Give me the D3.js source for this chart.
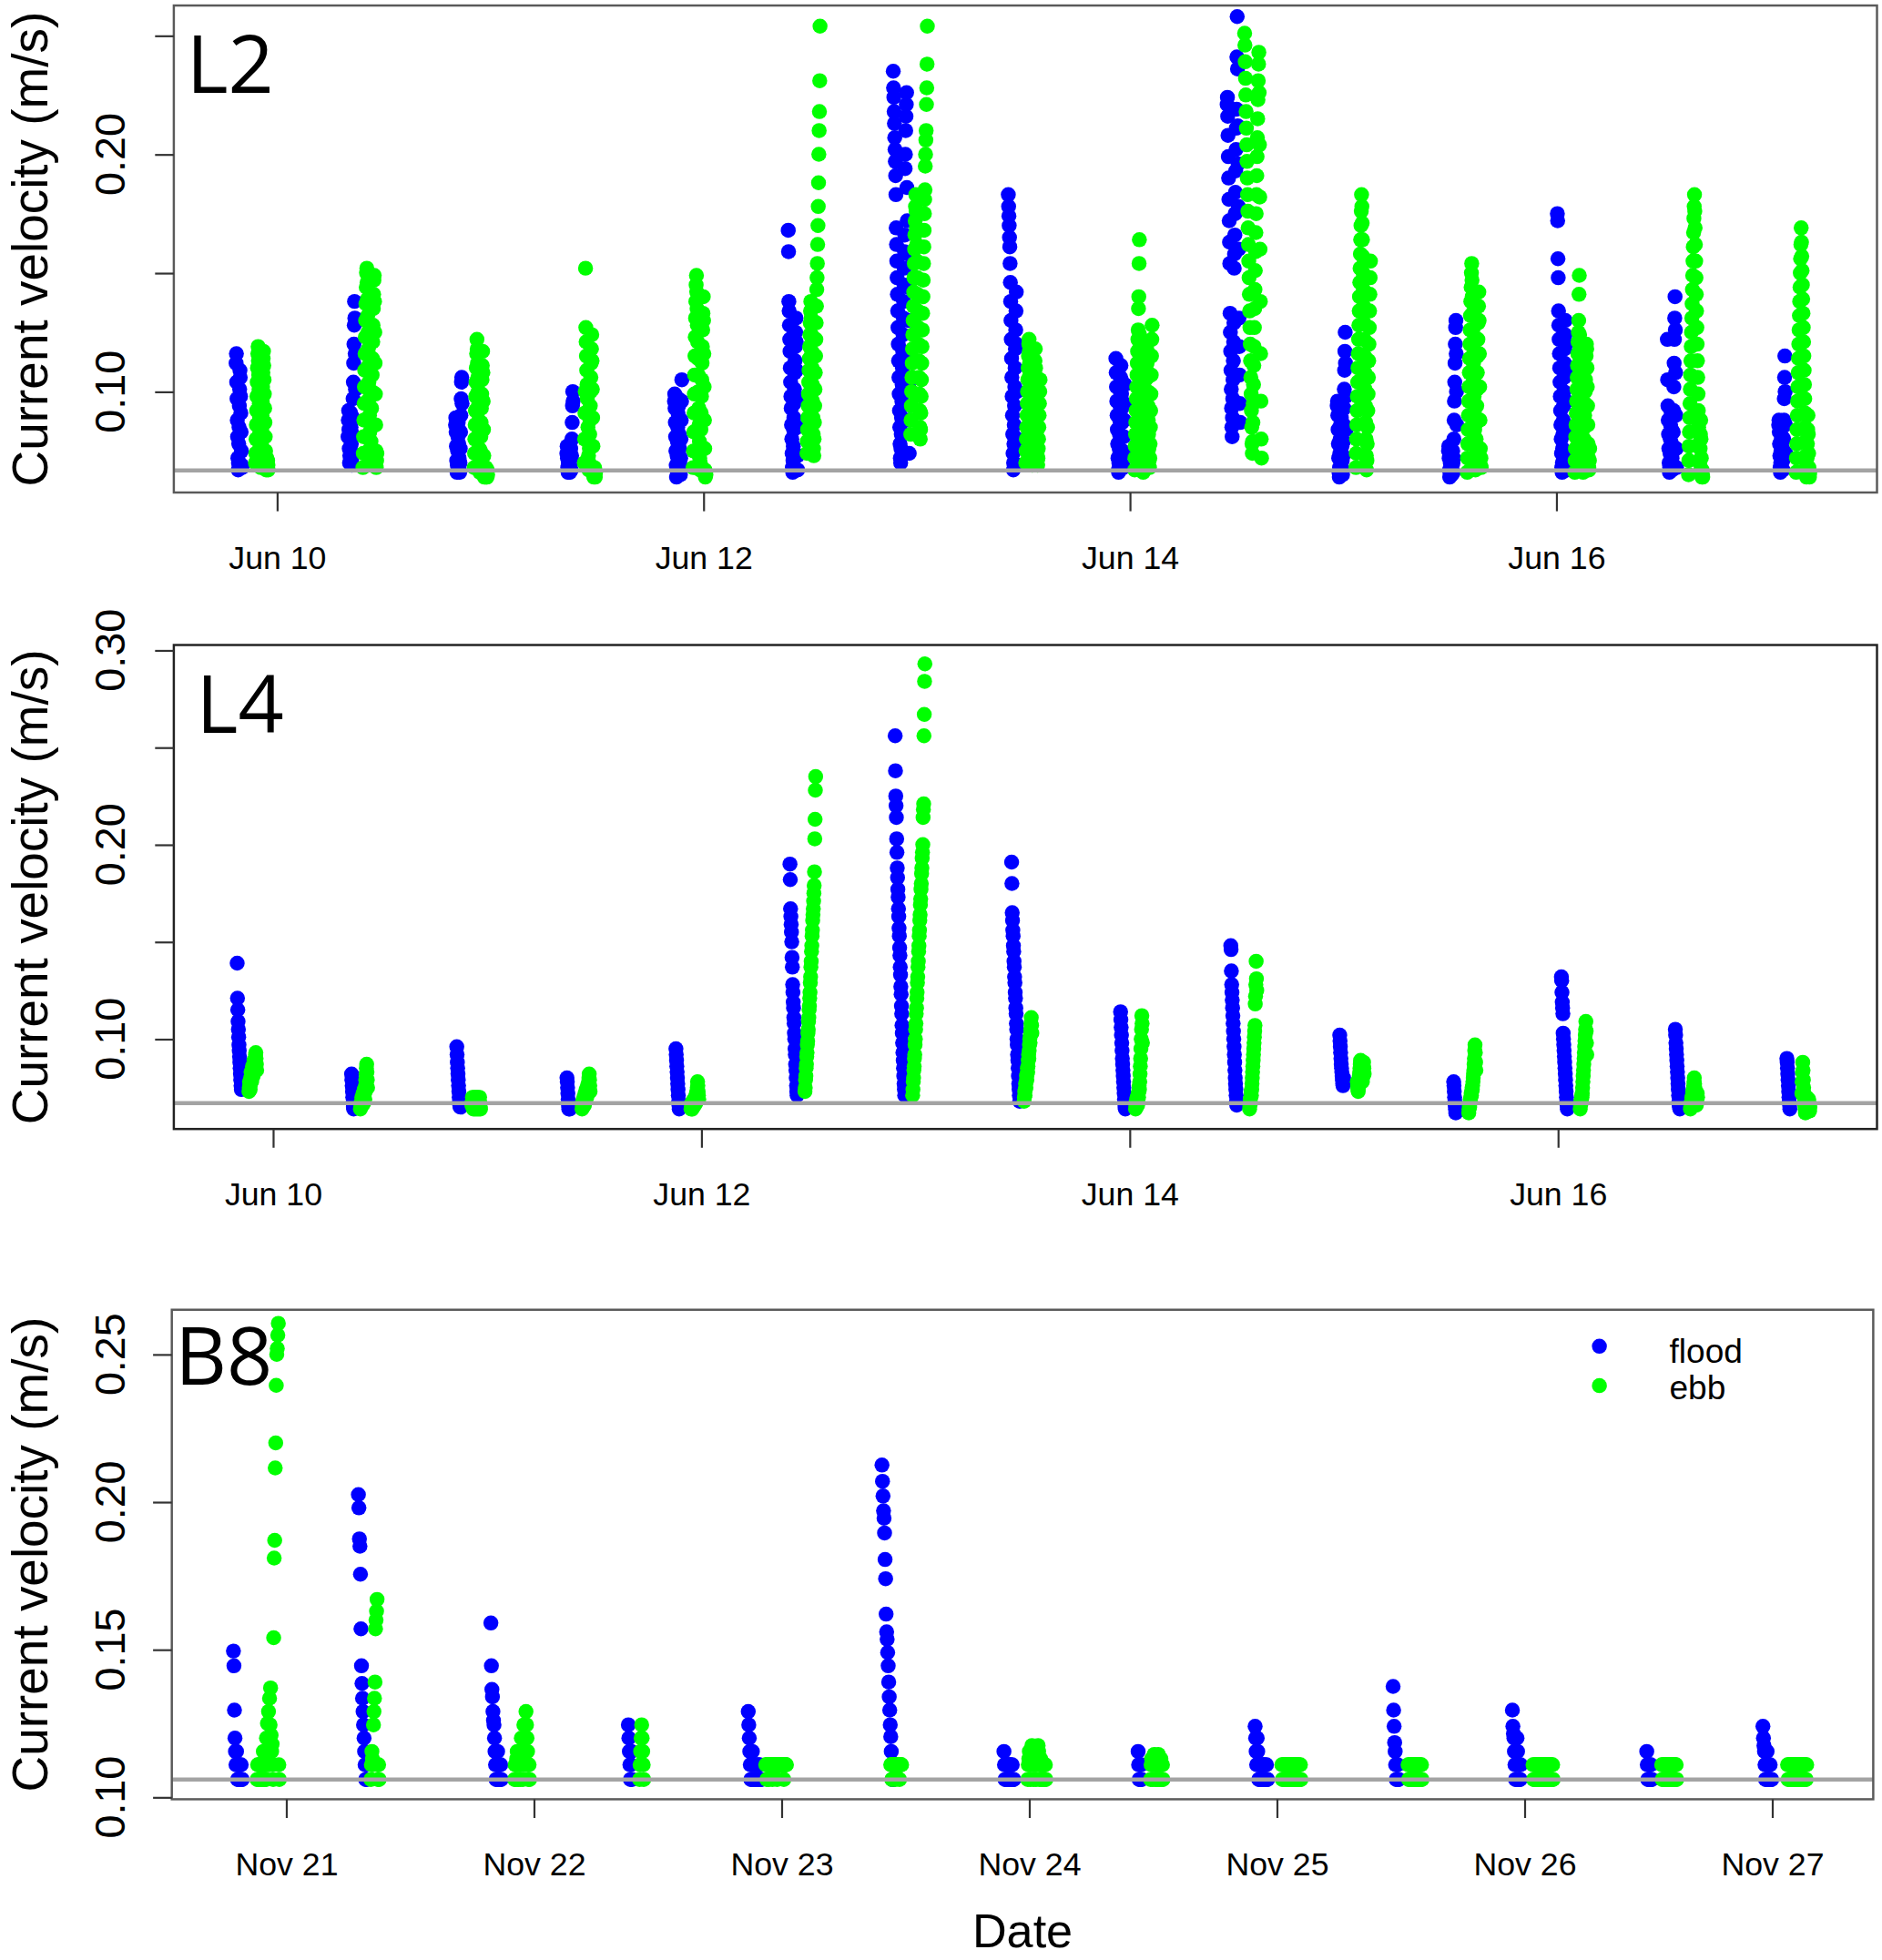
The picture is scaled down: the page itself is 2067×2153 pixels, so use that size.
<!DOCTYPE html>
<html><head><meta charset="utf-8">
<script src="https://cdn.jsdelivr.net/npm/d3@7"></script>
<style>
html,body{margin:0;padding:0;background:#fff;}
svg{display:block;}
text{font-family:"Liberation Sans", Arial, Helvetica, sans-serif;fill:#000;}
</style></head><body>
<svg id="chart" width="2067" height="2153" viewBox="0 0 1505 1568" preserveAspectRatio="none"></svg>
<script>
// ---------------- DATA (velocities in mm/s, start times in hours after the reference day) -------------
const seriesNames = ["flood", "ebb"];
const seriesColors = ["#0000FF", "#00FF00"];

// L2 (June) ---------------------------------------------------------------
const L2_floodStartH = [-4.60, 8.00, 20.10, 32.63, 44.74, 57.55, 69.37, 82.32, 94.43, 106.95, 119.34, 131.87, 144.12, 156.50, 169.03];
const L2_floodVel = [
 [112,116,104,97,88,81,72,67,70,78,85,94,101,109,106,98,91,83,75,69,68],
 [81,88,92,84,76,70,73,80,87,91,85,78,71,69,74,82,89,97,104,112,120,128,138,131,116,101],
 [86,89,83,77,71,66,69,75,81,87,84,78,72,67,66,70,76,83,90,97,104,106,95],
 [74,77,72,68,66,70,75,77,71,67,66,69,73,76,72,67,73,80,87,94,100,96],
 [96,99,93,87,81,75,69,64,67,73,79,85,91,97,94,88,82,76,70,66,65,72,80,88,96,105],
 [168,159,138,134,128,122,117,110,104,98,93,86,80,74,68,66,71,77,84,89,95,101,108,113,119,125,131,121,109,97,85,73,67],
 [235,228,224,218,213,207,202,197,191,183,169,162,155,148,141,134,127,120,113,106,99,92,85,78,72,70,76,82,89,96,103,110,117,124,131,138,145,152,159,166,194,200,210,216,221,226,186,172,158,144,130,116,102,88,74],
 [183,178,174,170,165,161,154,146,138,130,122,114,106,98,90,82,74,67,70,78,86,94,102,110,118,126,134,142,120,100,80,69],
 [114,108,102,96,90,84,78,72,67,66,70,76,82,88,94,100,106,111,105,99,93,87,81,75,69,68,74,81,88,95,103],
 [221,224,216,208,199,190,181,172,163,154,133,125,117,109,101,93,85,81,89,97,105,113,121,129,152,158,166,175,184,193,202,211,219,241,258,236,212,196,178,160,131,119,107,95,87],
 [94,96,90,84,78,72,66,64,68,74,80,86,92,95,89,83,77,71,65,67,73,79,86,93,101,109,117,125,112,98,84],
 [75,77,72,67,64,66,70,74,76,71,66,65,69,73,75,70,66,72,80,88,96,104,112,120,127,130,116,100,86],
 [175,172,156,148,134,128,122,116,110,104,98,92,86,80,74,68,66,70,76,82,88,94,100,106,112,118,124,130,120,108,96,84,72,67],
 [122,105,94,88,82,76,70,66,68,74,80,86,92,90,84,78,72,67,69,75,83,92,102,112,122,131,140,126,108,90,76,68],
 [86,88,83,78,73,68,66,70,75,80,85,87,81,76,71,67,72,80,88,97,106,115,100,86,74]
];
const L2_ebbStartH = [-2.42, 9.68, 22.21, 34.60, 46.85, 59.66, 71.34, 84.29, 96.54, 108.92, 121.45, 133.98, 146.09, 158.89, 171.00];
const L2_ebbVel = [
 [70,74,80,86,92,98,104,110,116,119,113,107,101,95,89,83,77,71,68,72,78,84,90,96,102,108,114,117,111,105,99,93,87,81,75,70,67,69,72,70,68,71,69,67],
 [68,74,81,88,95,102,109,116,123,130,137,144,150,152,146,139,132,125,118,111,104,97,90,83,76,70,72,79,86,93,100,107,114,121,128,135,141,147,149,138,125,112,99,86,75,68,71,74],
 [68,74,80,86,92,98,104,110,116,122,118,112,106,100,94,88,82,76,70,66,69,75,81,87,93,99,105,111,117,108,96,84,73,66,64,65,67,64,66,68,65,64,66,64,67,65],
 [70,80,91,100,152,127,121,115,109,103,97,91,85,79,73,67,70,76,82,88,94,100,106,112,118,124,113,101,89,77,68,65,64,66,68,65,67,64,66],
 [68,75,83,91,99,107,115,123,131,138,145,149,142,135,128,121,114,107,100,93,86,79,72,67,70,77,84,91,98,105,112,119,126,133,140,130,116,102,88,76,67,64,66,65],
 [74,79,84,89,94,99,104,109,114,119,124,129,134,138,131,124,117,110,103,96,89,82,76,73,80,87,94,101,108,115,122,129,136,143,148,154,162,170,178,188,200,210,218,231,254],
 [82,88,94,100,106,112,118,124,130,136,142,148,154,160,166,172,178,183,176,169,162,155,148,141,134,127,120,113,106,99,92,85,80,84,91,98,105,112,119,126,133,140,147,154,161,168,175,181,185,195,200,206,210,221,228,238,254],
 [70,75,80,85,90,95,100,105,110,115,120,122,117,112,107,102,97,92,87,82,77,72,69,73,78,83,88,93,98,103,108,113,118,110,100,92,85,79,74,71,69,72,76,80,85,90,95,100,105],
 [67,72,77,82,87,92,97,102,107,112,117,122,126,135,140,154,164,124,119,114,109,104,99,94,89,84,79,74,69,66,70,75,80,85,90,95,100,105,110,115,120,118,112,106,100,94,88,82,76,71,68,72,78,85,92,99,107,115,122,128],
 [251,246,239,232,225,218,211,204,197,190,183,176,169,162,155,148,141,134,127,120,113,106,99,92,85,78,74,79,87,95,103,111,119,127,135,143,151,159,167,175,183,191,199,207,215,223,231,238,243,226,204,182,160,138,116,96,80,72],
 [68,74,80,86,92,98,104,110,116,122,128,134,140,146,152,158,164,170,176,183,178,171,164,157,150,143,136,129,122,115,108,101,94,87,80,73,67,71,78,85,92,99,106,113,120,127,134,141,148,155],
 [66,72,78,84,90,96,102,108,114,120,126,132,138,144,150,154,147,140,133,126,119,112,105,98,91,84,77,70,67,73,80,87,94,101,108,115,122,129,136,142,130,116,102,88,76,69,72,68],
 [66,71,76,81,86,91,96,101,106,111,116,121,125,130,141,149,124,119,114,109,104,99,94,89,84,79,74,69,66,70,75,80,85,90,95,100,105,110,115,120,118,110,102,94,86,78,72,68,67,71,76],
 [65,71,77,83,89,95,101,107,113,119,125,131,137,143,149,155,161,167,173,178,183,176,169,162,155,148,141,134,127,120,113,106,99,92,85,78,71,66,70,76,82,88,80,72,66,64,67,65,64],
 [66,72,78,84,90,96,102,108,114,120,126,132,138,144,150,156,162,169,163,157,151,145,139,133,127,121,115,109,103,97,91,85,79,73,68,64,67,72,78,84,90,82,74,68,65,64,66]
];

// L4 (June) ---------------------------------------------------------------
const L4_floodStartH = [-4.01, 8.81, 20.60, 32.95, 45.16, 57.94, 69.73, 82.78, 94.99, 107.34, 119.55, 132.32, 144.39, 157.16, 169.66];
const L4_floodVel = [
 [139,121,115,109,105,101,97,94,91,88,85,82,79,76,74],
 [82,79,76,73,70,67,65,64,66,68],
 [96,92,88,85,82,79,76,73,70,68,66,65,66,67,65],
 [80,78,75,72,69,66,64,65,67,66,64],
 [95,92,89,86,83,80,77,74,71,68,66,64,65],
 [190,182,167,163,159,155,150,142,137,128,124,119,116,111,108,103,100,95,92,87,84,80,76,73,71],
 [256,238,225,220,214,203,196,188,183,177,173,167,163,157,153,147,143,137,133,127,123,117,113,107,103,98,93,89,85,81,77,74,71],
 [191,180,165,161,156,153,148,145,140,137,132,129,124,121,116,113,108,105,100,97,92,89,85,81,77,74,71,68],
 [114,110,106,102,98,94,90,87,84,81,78,75,72,69,67,65,64,66],
 [148,146,135,128,124,120,116,112,108,104,100,96,92,88,84,80,77,74,71,68,66],
 [102,99,96,93,90,87,85,83,81,79,77,76,78,80],
 [78,76,73,70,68,66,64,62,63],
 [132,130,124,119,116,113,103,100,97,94,91,88,85,82,79,76,73,70,68,66,64],
 [105,102,98,95,92,89,86,83,80,77,74,71,68,66,65,64],
 [90,88,85,82,79,76,73,70,68,66,64]
];
const L4_ebbStartH = [-2.69, 9.80, 22.29, 34.64, 46.85, 59.62, 71.69, 84.18, 96.67, 109.45, 121.52, 134.01, 146.50, 158.85, 171.34];
const L4_ebbVel = [
 [73,75,78,76,74,77,80,83,81,78,80,83,86,84,81,84,87,89,86,83,86,89,92,93,90,87,84],
 [64,65,67,66,68,70,68,66,69,72,70,67,71,74,72,69,73,76,79,82,85,87,83,79,75],
 [66,68,70,67,65,64,66,69,70,68,65,64,67,69,70,68,66,64,65,67,70,69,66,64,65,68,70,67,65,64],
 [64,66,68,66,65,67,70,68,66,69,72,70,68,71,74,72,70,73,76,74,72,75,78,80,82,79,76,73],
 [64,65,67,66,64,66,68,67,65,67,69,68,66,68,70,69,67,70,72,71,73,75,78,76,73,71,69],
 [73,75,79,81,85,87,91,93,97,99,103,105,109,111,115,117,121,124,129,132,137,140,145,148,153,156,161,164,167,171,175,179,186,203,213,228,235],
 [71,74,78,80,84,86,90,92,97,100,105,108,113,116,121,124,129,132,137,140,145,148,153,156,161,164,169,172,177,180,185,188,193,196,200,214,218,221,256,267,284,293],
 [68,70,73,71,74,77,75,78,81,79,82,85,83,86,89,92,90,94,97,100,98,102,105,108,111,107,103],
 [64,66,68,65,67,70,68,66,69,72,70,73,76,74,78,82,86,90,95,100,105,112,108,98],
 [64,66,69,67,70,73,71,74,77,80,83,86,89,92,95,98,101,104,107,118,122,128,140,131,125],
 [78,76,74,73,75,77,79,81,83,85,87,89,88,86,84,82,80,78,80,83,86,88,85,82],
 [62,64,66,65,67,69,68,70,72,71,73,75,74,76,78,80,82,84,87,90,94,97,93,88,84],
 [64,66,68,67,69,71,70,72,75,78,81,84,87,90,93,96,99,102,105,109,104,98,92],
 [64,65,67,66,68,70,69,71,73,72,74,76,78,80,77,75,73,71,69,67,66,68,70,72,70],
 [72,78,83,88,84,79,75,72,70,68,66,64,62,64,66,68,70,68,66,64,63,65,67,69,67,65,63,65]
];

// B8 (November) -----------------------------------------------------------
const B8_floodStartH = [-5.11, 7.00, 19.84, 33.16, 44.78, 57.74, 69.56, 82.56, 93.90, 107.27, 118.83, 131.85, 143.11];
const B8_floodVel = [
 [149.5,144.5,129.5,120,115.5,111,115.5,111,106,111,106,106,111,106,106,111,106,106],
 [202.5,198,187.5,185,175.5,157,144.5,138.5,133.5,129,124.5,120,115.5,111,106,111,106],
 [159,144.5,136.5,134,129,126,124.5,120,115.5,111,106,111,106,115.5,111,106,111,106,106,111,106],
 [124.5,120,115.5,111,106,111,115.5,106],
 [129,124.5,120,115.5,111,106,111,106,115.5,111,106,106,111,106,106,111,106,106,106,111,106,106,111,106,106,106],
 [212.5,207,202,197,194.5,189.5,180.5,174,162,156,153.5,149,144.5,139,134,129.5,124.5,120.5,115.5,111,106,106],
 [115.5,111,106,111,106,111,106,106,111,106,111,106,106,111,106,106,111,106,106,106],
 [115.5,111,106,111,106,106,111,106],
 [124,120,115.5,111,120,115.5,111,106,111,106,106,111,106,111,106,106,111,106,106,111,106,106,111,106,106],
 [137.5,129.5,124,118.5,115.5,111,106,111,106,111,106,106],
 [129.5,124,121.5,120,115.5,111,106,111,106,120,115.5,111,106,111,106,106,111],
 [115.5,111,106,111,106,106,111,106,111,106,106],
 [124,120,117.5,115.5,111,106,111,106,115.5,111,106,111,106,106,111,106,106,106]
];
const B8_ebbStartH = [-2.81, 8.21, 22.14, 34.25, 46.48, 58.59, 71.87, 83.77, 96.49, 108.72, 120.83, 133.30, 145.50];
const B8_ebbVel = [
 [106,111,106,111,106,111,106,111,106,111,106,111,115.5,106,111,106,111,106,120,111,125,115.5,129,111,133.5,124.5,137,121,115.5,118,111,106,154,181,187,211.5,220,239.5,250,252,256.5,260.5,111,106],
 [106,111,115.5,113,111,124.5,129,133.5,139,157,160,163,167,111,106,111,106],
 [106,111,106,111,113,115.5,111,106,113,115.5,111,106,111,120,115.5,113,106,111,124.5,120,115.5,111,129,124.5,120,115.5,111,106,111,106],
 [106,111,115.5,120,124.5,120,115.5,111,106],
 [111,111,106,111,111,111,106,111,111,111,111,111,111,106,111,111,111,111,111,111,111,111,106,111,111,111,111,111,111,111,111,111,111,111,111,106,111,111,111,111,111],
 [111,111,106,111,111,111,111,111,111,106,111,111,111,111,111,111,111,106,111,111,111,111],
 [106,111,113,115.5,111,106,111,113,117.5,115.5,111,106,111,115.5,113,111,106,111,113,115.5,117.5,115.5,111,106,111,113,111,106,111,106,111,106,111,106,111,106],
 [106,111,113,111,106,111,113,114.5,111,106,111,113,111,106,111,114.5,113,111,106,111,113,111,106,111,106],
 [111,106,111,106,111,111,106,111,106,111,106,106,111,106,111,111,106,111,106,111,106,111,106,106,111,106,111,111,106,111,106,111,106,111,106,106,111,106],
 [111,106,111,106,111,111,106,111,106,106,111,106,111,106,111,106,111,111,106,111,106,106,111,106,111,106,111,106],
 [111,106,111,106,106,111,106,111,111,106,111,106,111,106,106,111,106,111,106,111,111,106,111,106,111,106,106,111,106,111,106,111,111,106,111,106,111,106,111,106],
 [111,106,111,106,111,106,106,111,106,111,111,106,111,106,111,106,111,106,106,111,106,111,106,111,106,111,111,106,111,106],
 [111,106,111,106,111,111,106,111,106,106,111,106,111,106,111,106,111,111,106,111,106,111,106,106,111,106,111,106,111,106,111,111,106,111,106,111,106,111]
];

// sampling interval (minutes)
const L_sampleMin = 2;
const B8_sampleMin = 3;

// axis ticks / labels
const L_xTickDays = [0, 2, 4, 6];
const L_xTickLabels = ["Jun 10", "Jun 12", "Jun 14", "Jun 16"];
const B8_xTickDays = [0, 1, 2, 3, 4, 5, 6];
const B8_xTickLabels = ["Nov 21", "Nov 22", "Nov 23", "Nov 24", "Nov 25", "Nov 26", "Nov 27"];
const L2_yTicks = [0.10, 0.15, 0.20, 0.25];
const L2_yLabels = [0.10, 0.20];
const L4_yTicks = [0.10, 0.15, 0.20, 0.25, 0.30];
const L4_yLabels = [0.10, 0.20, 0.30];
const B8_yTicks = [0.10, 0.15, 0.20, 0.25];
const B8_yLabels = [0.10, 0.15, 0.20, 0.25];
const grayLineVel = [0.0668, 0.0670, 0.1060];
const panelTitles = ["L2", "L4", "B8"];
const yTitle = "Current velocity (m/s)";
const xTitle = "Date";

// ---------------- LAYOUT ----------------
const panels = [
  {title: panelTitles[0], ref: new Date(2019, 5, 10), domH: [-11.61, 180.1], yDom: [0.0575, 0.2627],
   left: 139, right: 1501, top: 4.4, bottom: 394, dt: L_sampleMin,
   fStart: L2_floodStartH, fVel: L2_floodVel, eStart: L2_ebbStartH, eVel: L2_ebbVel,
   xDays: L_xTickDays, xLabels: L_xTickLabels, yTicks: L2_yTicks, yLabels: L2_yLabels, gray: grayLineVel[0],
   tx: 149, ty: 74},
  {title: panelTitles[1], ref: new Date(2019, 5, 10), domH: [-11.11, 179.76], yDom: [0.0537, 0.3027],
   left: 139, right: 1501, top: 516, bottom: 903.2, dt: L_sampleMin,
   fStart: L4_floodStartH, fVel: L4_floodVel, eStart: L4_ebbStartH, eVel: L4_ebbVel,
   xDays: L_xTickDays, xLabels: L_xTickLabels, yTicks: L4_yTicks, yLabels: L4_yLabels, gray: grayLineVel[1],
   tx: 157, ty: 586},
  {title: panelTitles[2], ref: new Date(2019, 10, 21), domH: [-11.08, 153.80], yDom: [0.0993, 0.2651],
   left: 137.4, right: 1498, top: 1047.8, bottom: 1439.4, dt: B8_sampleMin,
   fStart: B8_floodStartH, fVel: B8_floodVel, eStart: B8_ebbStartH, eVel: B8_ebbVel,
   xDays: B8_xTickDays, xLabels: B8_xTickLabels, yTicks: B8_yTicks, yLabels: B8_yLabels, gray: grayLineVel[2],
   tx: 140, ty: 1107.5, legend: true}
];

const svg = d3.select("#chart");
const R = 6;
const hourOff = (ref, h) => new Date(ref.getTime() + h * 3600e3);

panels.forEach((p, pi) => {
  const x = d3.scaleTime().domain([hourOff(p.ref, p.domH[0]), hourOff(p.ref, p.domH[1])]).range([p.left, p.right]);
  const y = d3.scaleLinear().domain(p.yDom).range([p.bottom, p.top]);
  const g = svg.append("g");

  const clipId = "clip" + pi;
  svg.append("clipPath").attr("id", clipId).append("rect")
    .attr("x", p.left).attr("y", p.top).attr("width", p.right - p.left).attr("height", p.bottom - p.top);

  const build = (starts, vels, s) => {
    const pts = [];
    starts.forEach((h, ci) => {
      const t0 = hourOff(p.ref, h);
      vels[ci].forEach((v, j) => pts.push({t: new Date(t0.getTime() + j * p.dt * 60e3), v: v / 1000, s}));
    });
    return pts;
  };
  const pts = build(p.fStart, p.fVel, 0).concat(build(p.eStart, p.eVel, 1));

  const pg = g.append("g").attr("clip-path", `url(#${clipId})`);
  pg.selectAll("circle").data(pts).join("circle")
    .attr("cx", d => x(d.t)).attr("cy", d => y(d.v)).attr("r", R)
    .attr("fill", d => seriesColors[d.s]);

  g.append("line").attr("x1", p.left).attr("x2", p.right)
    .attr("y1", y(p.gray)).attr("y2", y(p.gray))
    .attr("stroke", "#A3A3A3").attr("stroke-width", 3.2);

  g.append("rect").attr("x", p.left).attr("y", p.top)
    .attr("width", p.right - p.left).attr("height", p.bottom - p.top)
    .attr("fill", "none").attr("stroke", pi === 1 ? "#222" : "#5a5a5a").attr("stroke-width", 1.8);

  const tickDates = p.xDays.map(k => d3.timeDay.offset(p.ref, k));
  const xa = g.append("g").attr("transform", `translate(0,${p.bottom})`)
    .call(d3.axisBottom(x).tickValues(tickDates).tickFormat((d, i) => p.xLabels[i]).tickSize(15).tickPadding(27.5));
  xa.select(".domain").remove();
  xa.selectAll(".tick line").attr("stroke", "#333").attr("stroke-width", 1.6);
  xa.selectAll(".tick text").attr("font-size", 26).attr("font-family", "Liberation Sans, Arial, sans-serif").attr("fill", "#000");

  const ya = g.append("g").attr("transform", `translate(${p.left},0)`)
    .call(d3.axisLeft(y).tickValues(p.yTicks).tickSize(15).tickFormat(""));
  ya.select(".domain").remove();
  ya.selectAll(".tick line").attr("stroke", "#333").attr("stroke-width", 1.6);

  g.selectAll("text.ylab").data(p.yLabels).join("text").attr("class", "ylab")
    .attr("transform", d => `translate(100,${y(d)}) rotate(-90)`)
    .attr("text-anchor", "middle").attr("font-size", 34)
    .text(d => d3.format(".2f")(d));

  g.append("text").attr("transform", `translate(38,${(p.top + p.bottom) / 2}) rotate(-90)`)
    .attr("text-anchor", "middle").attr("font-size", 40).text(yTitle);

  g.append("text").attr("x", p.tx).attr("y", p.ty)
    .attr("font-size", 64).style("font-family", "'Open Sans', 'DejaVu Sans', sans-serif").text(p.title);

  if (p.legend) {
    const lg = g.append("g");
    seriesNames.forEach((n, i) => {
      lg.append("circle").attr("cx", 1279).attr("cy", 1077 + i * 31.5).attr("r", 6).attr("fill", seriesColors[i]);
      lg.append("text").attr("x", 1335).attr("y", 1090 + i * 29.5).attr("font-size", 27).text(n);
    });
    g.append("text").attr("x", (p.left + p.right) / 2).attr("y", 1558)
      .attr("text-anchor", "middle").attr("font-size", 38).text(xTitle);
  }
});
</script>
</body></html>
